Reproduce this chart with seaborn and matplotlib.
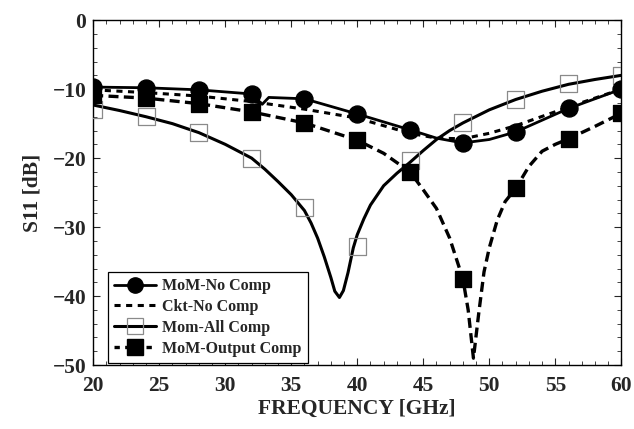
import numpy as np
import pandas as pd
import matplotlib
matplotlib.use('Agg')
import matplotlib.pyplot as plt
from matplotlib.lines import Line2D
import seaborn as sns

# MoM-No Comp (solid line, filled circles)
mom_no_freq = [20, 24, 28, 32, 32.8, 33.3, 36, 40, 44, 46, 48, 50, 52, 56, 60]
mom_no_db = [-9.7, -9.8, -10.1, -10.7, -12.2, -11.2, -11.4, -13.6, -15.9, -17.1, -17.8, -17.3, -16.2, -12.8, -10.0]
mom_no_mk_freq = [20, 24, 28, 32, 36, 40, 44, 48, 52, 56, 60]
mom_no_mk_db = [-9.7, -9.8, -10.1, -10.7, -11.4, -13.6, -15.9, -17.8, -16.2, -12.8, -10.0]

# Ckt-No Comp (short dashes, no marker)
ckt_freq = [20, 24, 28, 32, 36, 40, 44, 46, 48, 50, 52, 56, 60]
ckt_db = [-10.1, -10.5, -11.0, -11.8, -12.9, -14.2, -16.4, -17.1, -17.2, -16.4, -15.3, -12.6, -10.0]

# Mom-All Comp (solid line, open grey squares)
all_freq = [20, 22, 24, 26, 28, 30, 32, 33, 34, 35, 36, 36.5, 37, 37.5, 38, 38.3, 38.65,
            38.95, 39.3, 39.7, 40, 40.5, 41, 42, 43, 44, 45, 46, 47, 48, 50, 52, 54, 56, 58, 60]
all_db = [-12.3, -13.1, -14.0, -15.0, -16.3, -18.0, -20.0, -21.6, -23.4, -25.3, -27.6, -29.4,
          -31.6, -34.3, -37.3, -39.3, -40.2, -39.2, -36.6, -33.0, -31.1, -28.8, -26.8, -24.0,
          -22.2, -20.6, -18.9, -17.3, -16.0, -14.9, -13.0, -11.5, -10.3, -9.3, -8.6, -8.0]
all_mk_freq = [20, 24, 28, 32, 36, 40, 44, 48, 52, 56, 60]
all_mk_db = [-13.0, -14.0, -16.3, -20.0, -27.1, -32.8, -20.4, -14.9, -11.5, -9.2, -8.0]

# MoM-Output Comp (long dashes, filled squares)
out_freq = [20, 24, 28, 32, 36, 40, 42, 44, 45, 46, 47, 48, 48.4, 48.8, 49.2, 49.6, 50,
            50.6, 51.2, 52, 53, 54, 55, 56, 58, 60]
out_db = [-10.9, -11.3, -12.1, -13.3, -14.9, -17.4, -19.3, -22.0, -24.6, -27.3, -31.6, -37.5,
          -42.0, -49.0, -42.5, -36.5, -33.0, -29.0, -26.3, -24.4, -21.2, -19.0, -18.0, -17.2,
          -15.4, -13.5]
out_mk_freq = [20, 24, 28, 32, 36, 40, 44, 48, 52, 56, 60]
out_mk_db = [-10.9, -11.3, -12.1, -13.3, -14.9, -17.4, -22.0, -37.5, -24.4, -17.2, -13.5]

x_ticks = [20, 25, 30, 35, 40, 45, 50, 55, 60]
y_ticks = [0, -10, -20, -30, -40, -50]

sns.set_style('ticks')
plt.rcParams['font.family'] = ['Liberation Serif', 'DejaVu Serif']
plt.rcParams['font.weight'] = 'bold'

fig = plt.figure(figsize=(6.34, 4.29), dpi=100)
ax = fig.add_axes([0.147, 0.149, 0.833, 0.804])

sns.lineplot(x=all_freq, y=all_db, ax=ax, color='black', lw=2.2, sort=False)
sns.lineplot(x=ckt_freq, y=ckt_db, ax=ax, color='black', lw=2.2, sort=False,
             linestyle=(0, (2.0, 1.8)))
sns.lineplot(x=out_freq, y=out_db, ax=ax, color='black', lw=2.4, sort=False,
             linestyle=(0, (3.0, 1.6)))
sns.lineplot(x=mom_no_freq, y=mom_no_db, ax=ax, color='black', lw=2.0, sort=False)

sns.scatterplot(x=all_mk_freq, y=all_mk_db, ax=ax, marker='s', s=150,
                facecolor='none', edgecolor='#8a8a8a', linewidth=0.9, zorder=3)
sns.scatterplot(x=out_mk_freq, y=out_mk_db, ax=ax, marker='s', s=140,
                color='black', edgecolor='black', zorder=4)
sns.scatterplot(x=mom_no_mk_freq, y=mom_no_mk_db, ax=ax, marker='o', s=150,
                color='black', edgecolor='black', zorder=5)

ax.set_xlim(20, 60)
ax.set_ylim(-50, 0)
ax.set_xticks(x_ticks)
ax.set_yticks(y_ticks)
ax.set_xticks(np.arange(20, 61, 1), minor=True)
ax.set_yticks(np.arange(-50, 1, 2), minor=True)
ax.tick_params(which='both', direction='in', top=True, right=True, labelsize=15.5)
ax.tick_params(axis='x', pad=8)
ax.tick_params(axis='y', pad=5)
ax.tick_params(which='major', length=5, width=0.8)
ax.tick_params(which='minor', length=3, width=0.6)
for lab in ax.get_xticklabels() + ax.get_yticklabels():
    lab.set_fontweight('bold')
for sp in ax.spines.values():
    sp.set_linewidth(1.0)
    sp.set_color('black')

ax.set_xlabel('FREQUENCY [GHz]', fontsize=15.5, fontweight='bold', labelpad=2)
ax.set_ylabel('S11 [dB]', fontsize=15.5, fontweight='bold', labelpad=7)

handles = [
    Line2D([], [], color='black', lw=2.0, marker='o', markersize=11),
    Line2D([], [], color='black', lw=2.2, linestyle=(0, (2.0, 1.8))),
    Line2D([], [], color='black', lw=2.2, marker='s', markersize=11,
           markerfacecolor='none', markeredgecolor='#8a8a8a', markeredgewidth=0.9),
    Line2D([], [], color='black', lw=2.4, linestyle=(0, (1.6, 1.6)), marker='s',
           markersize=11),
]
labels = ['MoM-No Comp', 'Ckt-No Comp', 'Mom-All Comp', 'MoM-Output Comp']
leg = ax.legend(handles, labels, loc='lower left', bbox_to_anchor=(0.028, 0.006),
                frameon=True, fancybox=False, framealpha=1, edgecolor='black',
                prop={'family': 'Liberation Serif', 'weight': 'bold', 'size': 11.5},
                handlelength=2.6, handletextpad=0.4, labelspacing=0.3, borderpad=0.4,
                borderaxespad=0)
leg.get_frame().set_linewidth(0.9)

fig.savefig('out.png', dpi=100)
